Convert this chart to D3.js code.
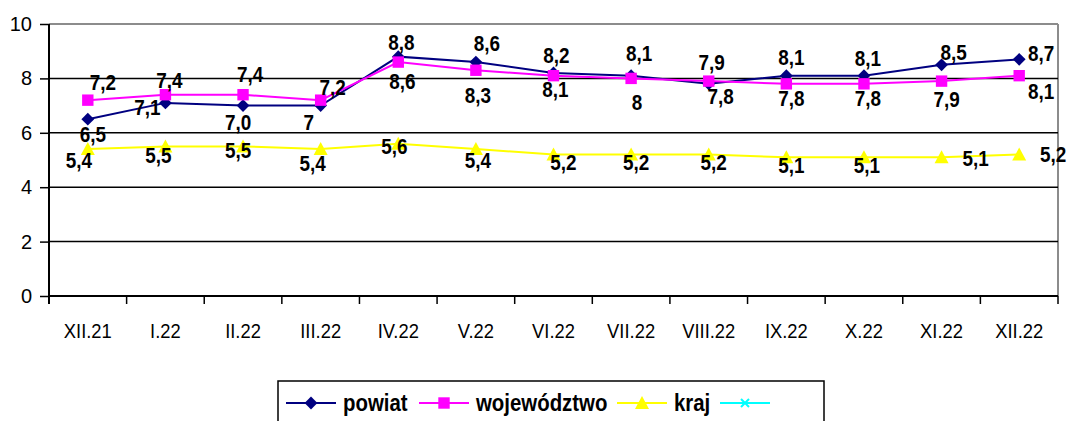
<!DOCTYPE html>
<html>
<head>
<meta charset="utf-8">
<script src="https://cdn.jsdelivr.net/npm/d3@7"></script>
<style>
  body { margin: 0; background: #fff; }
  svg { display: block; font-family: 'Liberation Sans', Arial, sans-serif; }
</style>
</head>
<body>
<div id="chart"></div>
<script>
const categories = ['XII.21', 'I.22', 'II.22', 'III.22', 'IV.22', 'V.22', 'VI.22', 'VII.22', 'VIII.22', 'IX.22', 'X.22', 'XI.22', 'XII.22'];
const powiat = [6.5, 7.1, 7.0, 7.0, 8.8, 8.6, 8.2, 8.1, 7.8, 8.1, 8.1, 8.5, 8.7];
const wojewodztwo = [7.2, 7.4, 7.4, 7.2, 8.6, 8.3, 8.1, 8.0, 7.9, 7.8, 7.8, 7.9, 8.1];
const kraj = [5.4, 5.5, 5.5, 5.4, 5.6, 5.4, 5.2, 5.2, 5.2, 5.1, 5.1, 5.1, 5.2];
const powiatLabels = ['6,5', '7,1', '7,0', '7', '8,8', '8,6', '8,2', '8,1', '7,8', '8,1', '8,1', '8,5', '8,7'];
const wojewodztwoLabels = ['7,2', '7,4', '7,4', '7,2', '8,6', '8,3', '8,1', '8', '7,9', '7,8', '7,8', '7,9', '8,1'];
const krajLabels = ['5,4', '5,5', '5,5', '5,4', '5,6', '5,4', '5,2', '5,2', '5,2', '5,1', '5,1', '5,1', '5,2'];
const yTicks = [0, 2, 4, 6, 8, 10];
const legendNames = ['powiat', 'województwo', 'kraj', ''];

// where each data label sits relative to its point (Excel moved some by hand)
const powiatOffsets = [[5, 15], [-18, 4], [-5, 17], [-12, 17], [3, -14], [11, -19], [3, -18], [8, -22], [12, 12], [5, -18], [4, -17], [12, -13], [22, -6]];
const wojOffsets = [[15, -18], [4, -14], [7, -20], [12, -13], [4, 19], [2, 25], [2, 14], [6, 24], [3, -19], [5, 14], [4, 14], [5, 18], [22, 16]];
const krajOffsets = [[-9, 11], [-7, 9], [-5, 4], [-8, 14], [-4, 3], [2, 11], [10, 8], [5, 8], [5, 8], [5, 8], [3, 8], [34, 1], [34, 0]];

const width = 1068, height = 421;
const plotLeft = 49, plotRight = 1058, plotTop = 24, plotBottom = 296;
const narrow = 0.86; // no Arial Narrow installed, squeeze the bold text instead

const svg = d3.select('#chart').append('svg')
    .attr('width', width)
    .attr('height', height);

const x = d3.scaleBand().domain(categories).range([plotLeft, plotRight]).padding(0);
const y = d3.scaleLinear().domain([0, 10]).range([plotBottom, plotTop]);
const cx = c => x(c) + x.bandwidth() / 2;

// plot frame: gray top/right, black gridlines
svg.append('line')
    .attr('x1', plotLeft).attr('x2', plotRight).attr('y1', plotTop).attr('y2', plotTop)
    .attr('stroke', '#8c8c8c').attr('stroke-width', 2);
svg.append('line')
    .attr('x1', plotRight).attr('x2', plotRight).attr('y1', plotTop).attr('y2', plotBottom)
    .attr('stroke', '#8c8c8c').attr('stroke-width', 2);

svg.append('g')
    .selectAll('line')
    .data(yTicks.filter(t => t > 0 && t < 10))
    .enter().append('line')
    .attr('x1', plotLeft).attr('x2', plotRight)
    .attr('y1', d => y(d)).attr('y2', d => y(d))
    .attr('stroke', '#000').attr('stroke-width', 1.5);

// y axis
const yAxis = svg.append('g')
    .attr('transform', `translate(${plotLeft},0)`)
    .call(d3.axisLeft(y).tickValues(yTicks).tickSize(9).tickSizeOuter(0).tickPadding(8).tickFormat(d3.format('d')));
yAxis.select('.domain').attr('stroke-width', 2).attr('d', `M0,${plotTop}V${plotBottom + 8}`);
yAxis.selectAll('.tick line').attr('stroke-width', 1.5);
yAxis.selectAll('.tick text').attr('font-size', 20).attr('fill', '#000')
    .attr('font-family', "'Liberation Sans', Arial, sans-serif");

// x axis with ticks between categories
const xAxis = svg.append('g')
    .attr('transform', `translate(0,${plotBottom})`);
xAxis.append('line')
    .attr('x1', plotLeft).attr('x2', plotRight).attr('y1', 0).attr('y2', 0)
    .attr('stroke', '#000').attr('stroke-width', 2);
xAxis.selectAll('line.tk')
    .data(categories.concat(['end']))
    .enter().append('line')
    .attr('class', 'tk')
    .attr('x1', (d, i) => i < categories.length ? x(d) : plotRight)
    .attr('x2', (d, i) => i < categories.length ? x(d) : plotRight)
    .attr('y1', 0).attr('y2', 8)
    .attr('stroke', '#000').attr('stroke-width', 1.5);
xAxis.selectAll('text')
    .data(categories)
    .enter().append('text')
    .attr('transform', d => `translate(${cx(d)},42) scale(0.92,1)`)
    .attr('text-anchor', 'middle')
    .attr('font-size', 20)
    .text(d => d);

const diamond = d3.symbol().type(d3.symbolSquare).size(82)();
const square = d3.symbol().type(d3.symbolSquare).size(130)();
const triangle = 'M0,-7L7,6L-7,6Z';

const series = [
    {name: 'powiat', values: powiat, labels: powiatLabels, offsets: powiatOffsets, color: '#000080', marker: diamond, rotate: 45},
    {name: 'województwo', values: wojewodztwo, labels: wojewodztwoLabels, offsets: wojOffsets, color: '#ff00ff', marker: square, rotate: 0},
    {name: 'kraj', values: kraj, labels: krajLabels, offsets: krajOffsets, color: '#ffff00', marker: triangle, rotate: 0}
];

const line = d3.line()
    .x((d, i) => cx(categories[i]))
    .y(d => y(d));

series.forEach(s => {
    const g = svg.append('g');
    g.append('path')
        .attr('d', line(s.values))
        .attr('fill', 'none')
        .attr('stroke', s.color)
        .attr('stroke-width', 2);
    g.selectAll('path.m')
        .data(s.values)
        .enter().append('path')
        .attr('class', 'm')
        .attr('d', s.marker)
        .attr('fill', s.color)
        .attr('transform', (d, i) => `translate(${cx(categories[i])},${y(d)}) rotate(${s.rotate})`);
});

// data labels on top
series.forEach(s => {
    svg.append('g')
        .selectAll('text')
        .data(s.values)
        .enter().append('text')
        .attr('transform', (d, i) => `translate(${cx(categories[i]) + s.offsets[i][0]},${y(d) + s.offsets[i][1]}) scale(${narrow},1)`)
        .attr('dy', '0.35em')
        .attr('text-anchor', 'middle')
        .attr('font-size', 22)
        .attr('font-weight', 'bold')
        .text((d, i) => s.labels[i]);
});

// legend
const legend = svg.append('g');
legend.append('rect')
    .attr('x', 278).attr('y', 381)
    .attr('width', 546).attr('height', 44)
    .attr('fill', '#fff').attr('stroke', '#000').attr('stroke-width', 1.5);

const legendX = [286, 419, 617, 720];
const legendItems = series.map(s => ({name: s.name, color: s.color, marker: s.marker, rotate: s.rotate}))
    .concat([{name: legendNames[3], color: '#00ffff', marker: null, rotate: 0}]);
const ly = 403;
legendItems.forEach((it, i) => {
    const g = legend.append('g').attr('transform', `translate(${legendX[i]},${ly})`);
    g.append('line').attr('x1', 0).attr('x2', 50).attr('y1', 0).attr('y2', 0)
        .attr('stroke', it.color).attr('stroke-width', 2);
    if (it.marker) {
        g.append('path').attr('d', it.marker).attr('fill', it.color)
            .attr('transform', `translate(25,0) rotate(${it.rotate})`);
    } else {
        g.append('path').attr('d', 'M-4,-4L4,4M-4,4L4,-4')
            .attr('stroke', it.color).attr('stroke-width', 2)
            .attr('transform', 'translate(25,0)');
    }
    g.append('text')
        .attr('transform', `translate(57,0) scale(0.85,1)`)
        .attr('dy', '0.35em')
        .attr('font-size', 24).attr('font-weight', 'bold')
        .text(it.name);
});
</script>
</body>
</html>
